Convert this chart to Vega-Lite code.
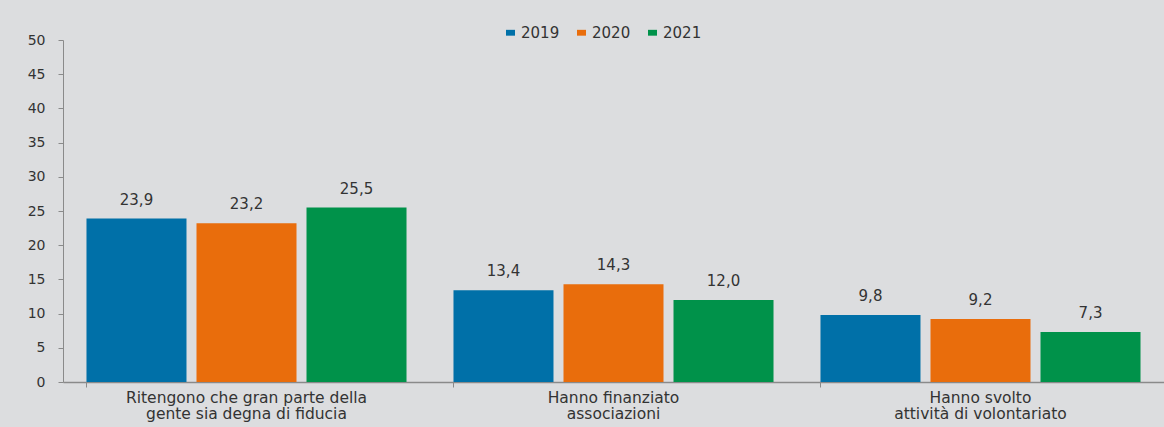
{
  "$schema": "https://vega.github.io/schema/vega-lite/v6.json",
  "autosize": "none",
  "width": 1101,
  "height": 342,
  "padding": {"left": 63, "top": 40, "right": 0, "bottom": 45},
  "background": "#dcdddf",
  "config": {
    "view": {"stroke": null},
    "locale": {"number": {"decimal": ",", "thousands": ".", "grouping": [3], "currency": ["", " €"]}},
    "font": "DejaVu Sans"
  },
  "data": {
    "values": [
      {"gruppo": "Ritengono che gran parte della|gente sia degna di fiducia", "anno": "2019", "valore": 23.9},
      {"gruppo": "Ritengono che gran parte della|gente sia degna di fiducia", "anno": "2020", "valore": 23.2},
      {"gruppo": "Ritengono che gran parte della|gente sia degna di fiducia", "anno": "2021", "valore": 25.5},
      {"gruppo": "Hanno finanziato|associazioni", "anno": "2019", "valore": 13.4},
      {"gruppo": "Hanno finanziato|associazioni", "anno": "2020", "valore": 14.3},
      {"gruppo": "Hanno finanziato|associazioni", "anno": "2021", "valore": 12.0},
      {"gruppo": "Hanno svolto|attività di volontariato", "anno": "2019", "valore": 9.8},
      {"gruppo": "Hanno svolto|attività di volontariato", "anno": "2020", "valore": 9.2},
      {"gruppo": "Hanno svolto|attività di volontariato", "anno": "2021", "valore": 7.3}
    ]
  },
  "encoding": {
    "x": {
      "field": "gruppo", "type": "nominal", "sort": null,
      "scale": {"paddingInner": 0.128, "paddingOuter": 0.064}
    },
    "xOffset": {"field": "anno", "type": "nominal", "scale": {"paddingInner": 0.091, "paddingOuter": 0}},
    "y": {
      "field": "valore", "type": "quantitative",
      "scale": {"domain": [0, 50], "nice": false},
      "axis": {
        "title": null, "values": [0, 5, 10, 15, 20, 25, 30, 35, 40, 45, 50],
        "grid": false, "domainColor": "#8a8a8a", "tickColor": "#8a8a8a", "tickSize": 5,
        "labelColor": "#333333", "labelFontSize": 14, "labelPadding": 13, "labelFont": "DejaVu Sans"
      }
    }
  },
  "layer": [
    {
      "mark": {"type": "bar"},
      "encoding": {
        "x": {
          "field": "gruppo", "type": "nominal", "sort": null,
          "axis": {
            "title": null, "orient": "bottom", "labelAngle": 0, "ticks": false, "domainColor": "#8a8a8a", "domainWidth": 1.5,
            "labelExpr": "split(datum.label, '|')", "labelColor": "#333333", "labelFontSize": 15.5, "labelLimit": 500,
            "labelLineHeight": 16, "labelPadding": 8, "labelBaseline": "top", "labelFont": "DejaVu Sans"
          }
        },
        "color": {
          "field": "anno", "type": "nominal",
          "scale": {"domain": ["2019", "2020", "2021"], "range": ["#0070a8", "#e96d0c", "#00924a"]},
          "legend": {
            "title": null, "orient": "none", "direction": "horizontal", "legendX": 440, "legendY": -15,
            "padding": 0, "symbolType": "M-1,-0.65H1V0.65H-1Z", "symbolSize": 81, "symbolStrokeWidth": 0,
            "labelFontSize": 15, "labelColor": "#333333", "labelOffset": 3, "columnPadding": 14,
            "labelFont": "DejaVu Sans"
          }
        }
      }
    },
    {
      "mark": {"type": "text", "baseline": "bottom", "dy": -11, "fontSize": 15, "color": "#333333", "font": "DejaVu Sans"},
      "encoding": {
        "x": {
          "field": "gruppo", "type": "nominal", "sort": null,
          "axis": {
            "title": null, "orient": "bottom", "labels": false, "domain": false, "ticks": true, "bandPosition": 0,
            "tickColor": "#8a8a8a", "tickSize": 5
          }
        },
        "text": {"field": "valore", "type": "quantitative", "format": ".1f"}
      }
    }
  ],
  "resolve": {"axis": {"x": "independent"}}
}
